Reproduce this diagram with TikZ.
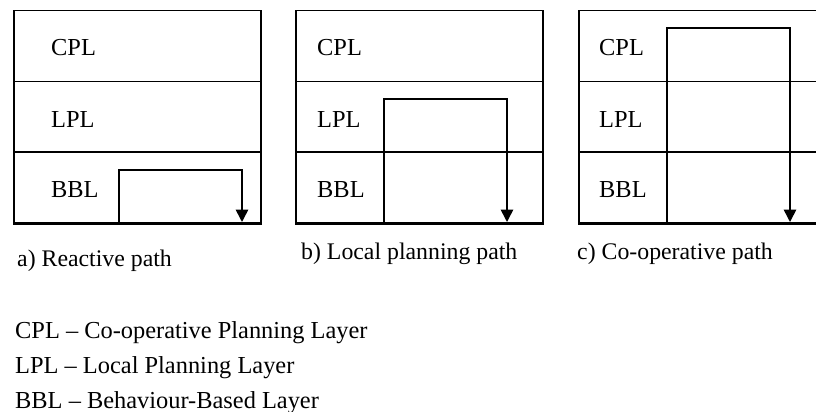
\documentclass[tikz,border=0pt]{standalone}
\usepackage{fontspec}
\setmainfont{Liberation Serif}
\usetikzlibrary{arrows.meta}
\begin{document}
\begin{tikzpicture}[x=1pt,y=-1pt,
  layerbox/.style={draw, line width=1.5pt, minimum width=247pt, minimum height=70.67pt,
    inner sep=0pt, anchor=north west},
  labeltext/.style={anchor=base west, inner sep=0pt, font=\fontsize{24.4}{28}\selectfont},
  pathline/.style={line width=1.6pt, -{Triangle[length=12.5pt,width=12.5pt]}},
  floorline/.style={line width=2.4pt}
]
\useasboundingbox (0,0) rectangle (816,412);
\clip (0,0) rectangle (816,412);

% three stacks of layers
\node[layerbox] (a-cpl) at (13,10) {};
\node[layerbox] (a-lpl) at (13,80.67) {};
\node[layerbox] (a-bbl) at (13,151.33) {};
\node[layerbox] (b-cpl) at (295,10) {};
\node[layerbox] (b-lpl) at (295,80.67) {};
\node[layerbox] (b-bbl) at (295,151.33) {};
\node[layerbox] (c-cpl) at (578,10) {};
\node[layerbox] (c-lpl) at (578,80.67) {};
\node[layerbox] (c-bbl) at (578,151.33) {};
\draw[floorline] (a-bbl.south west) -- (a-bbl.south east);
\draw[floorline] (b-bbl.south west) -- (b-bbl.south east);
\draw[floorline] (c-bbl.south west) -- (c-bbl.south east);

% layer names
\node[labeltext] (a-t1) at (51,56) {CPL};
\node[labeltext] (a-t2) at (51,127) {LPL};
\node[labeltext] (a-t3) at (51,197) {BBL};
\node[labeltext] (b-t1) at (317,56) {CPL};
\node[labeltext] (b-t2) at (317,127) {LPL};
\node[labeltext] (b-t3) at (317,197) {BBL};
\node[labeltext] (c-t1) at (599,56) {CPL};
\node[labeltext] (c-t2) at (599,127) {LPL};
\node[labeltext] (c-t3) at (599,197) {BBL};

% a) reactive path
\coordinate (a-in) at (119,222);
\coordinate (a-turn) at (242,170);
\coordinate (a-out) at (242,222);
\draw[pathline] (a-in) |- (a-turn) -- (a-out);

% b) local planning path
\coordinate (b-in) at (384,222);
\coordinate (b-turn) at (507,99);
\coordinate (b-out) at (507,222);
\draw[pathline] (b-in) |- (b-turn) -- (b-out);

% c) co-operative path
\coordinate (c-in) at (667,222);
\coordinate (c-turn) at (790,28);
\coordinate (c-out) at (790,222);
\draw[pathline] (c-in) |- (c-turn) -- (c-out);

% captions
\node[labeltext, font=\fontsize{23.8}{28}\selectfont] (cap-a) at (17,266) {a) Reactive path};
\node[labeltext, font=\fontsize{23.8}{28}\selectfont] (cap-b) at (301,259) {b) Local planning path};
\node[labeltext, font=\fontsize{23.8}{28}\selectfont] (cap-c) at (577,259) {c) Co-operative path};

% legend
\node[labeltext] (leg-1) at (15,338) {CPL -- Co-operative Planning Layer};
\node[labeltext] (leg-2) at (15,373) {LPL -- Local Planning Layer};
\node[labeltext] (leg-3) at (15,408) {BBL -- Behaviour-Based Layer};
\end{tikzpicture}
\end{document}
